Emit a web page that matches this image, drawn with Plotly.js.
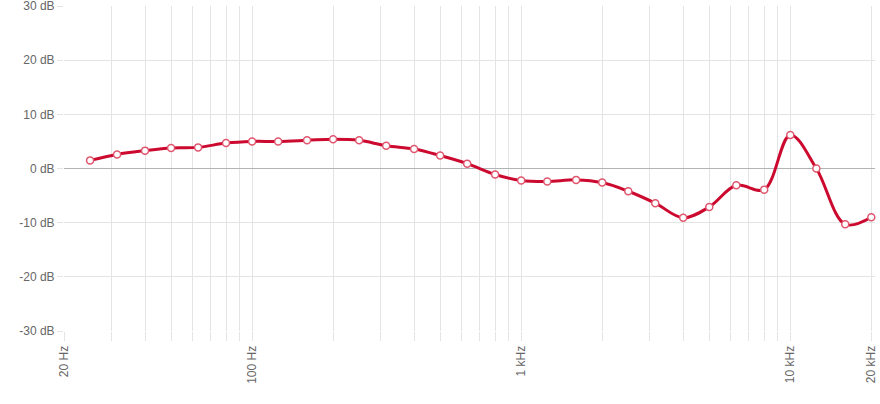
<!DOCTYPE html>
<html>
<head>
<meta charset="utf-8">
<script src="https://cdn.plot.ly/plotly-3.0.1.min.js"></script>
<style>
  html, body { margin: 0; padding: 0; background: #fff; }
  #chart { width: 880px; height: 404px; }
</style>
</head>
<body>
<div id="chart"></div>
<script>
// Frequencies (Hz), third-octave centres
const freqs = [25, 31.5, 40, 50, 63, 80, 100, 125, 160, 200, 250, 315, 400, 500, 630, 800,
               1000, 1250, 1600, 2000, 2500, 3150, 4000, 5000, 6300, 8000, 10000, 12500, 16000, 20000];
// Response (dB)
const levels = [1.5, 2.6, 3.3, 3.8, 3.9, 4.7, 5.0, 5.0, 5.2, 5.4, 5.2, 4.2, 3.6, 2.4, 0.9, -1.1,
                -2.2, -2.4, -2.1, -2.6, -4.2, -6.4, -9.1, -7.1, -3.1, -3.9, 6.2, 0.0, -10.3, -9.0];

// X-axis grid/tick positions and labels
const xTickVals = [20, 30, 40, 50, 60, 70, 80, 90,
                   100, 200, 300, 400, 500, 600, 700, 800, 900,
                   1000, 2000, 3000, 4000, 5000, 6000, 7000, 8000, 9000,
                   10000, 20000];
const xTickText = ['20 Hz', '', '', '', '', '', '', '',
                   '100 Hz', '', '', '', '', '', '', '', '',
                   '1 kHz', '', '', '', '', '', '', '', '',
                   '10 kHz', '20 kHz'];
// Y-axis ticks
const yTickVals = [-30, -20, -10, 0, 10, 20, 30];
const yTickText = ['-30 dB', '-20 dB', '-10 dB', '0 dB', '10 dB', '20 dB', '30 dB'];

const lineColor = '#cc0a2f';
const gridColor = '#e4e4e4';
const tickFont = { family: 'Liberation Sans, Arial, sans-serif', size: 12, color: '#666' };

const trace = {
  x: freqs,
  y: levels,
  type: 'scatter',
  mode: 'lines+markers',
  line: { color: lineColor, width: 3, shape: 'spline', smoothing: 1 },
  marker: { size: 7, color: '#ffffff', line: { color: '#e0566e', width: 1.5 } },
  hoverinfo: 'x+y',
  cliponaxis: false
};

const layout = {
  width: 880,
  height: 404,
  margin: { l: 64, r: 5, t: 6, b: 73 },
  paper_bgcolor: '#ffffff',
  plot_bgcolor: '#ffffff',
  showlegend: false,
  xaxis: {
    type: 'log',
    range: [Math.log10(20), Math.log10(20000) + 0.0138],
    tickmode: 'array',
    tickvals: xTickVals,
    ticktext: xTickText,
    tickangle: -90,
    ticks: 'outside',
    ticklen: 9,
    tickcolor: gridColor,
    tickwidth: 1,
    showgrid: true,
    gridcolor: gridColor,
    gridwidth: 1,
    zeroline: false,
    showline: false,
    tickfont: tickFont,
    ticklabeloverflow: 'allow',
    fixedrange: true
  },
  yaxis: {
    range: [-30, 30],
    tickmode: 'array',
    tickvals: yTickVals,
    ticktext: yTickText,
    ticks: 'outside',
    ticklen: 6,
    tickcolor: gridColor,
    tickwidth: 1,
    showgrid: true,
    gridcolor: gridColor,
    gridwidth: 1,
    zeroline: true,
    zerolinecolor: '#b3b3b3',
    zerolinewidth: 1,
    showline: false,
    tickfont: tickFont,
    ticklabelstandoff: 0,
    ticklabeloverflow: 'allow',
    fixedrange: true
  }
};

Plotly.newPlot('chart', [trace], layout, { displayModeBar: false, staticPlot: true });
</script>
</body>
</html>
